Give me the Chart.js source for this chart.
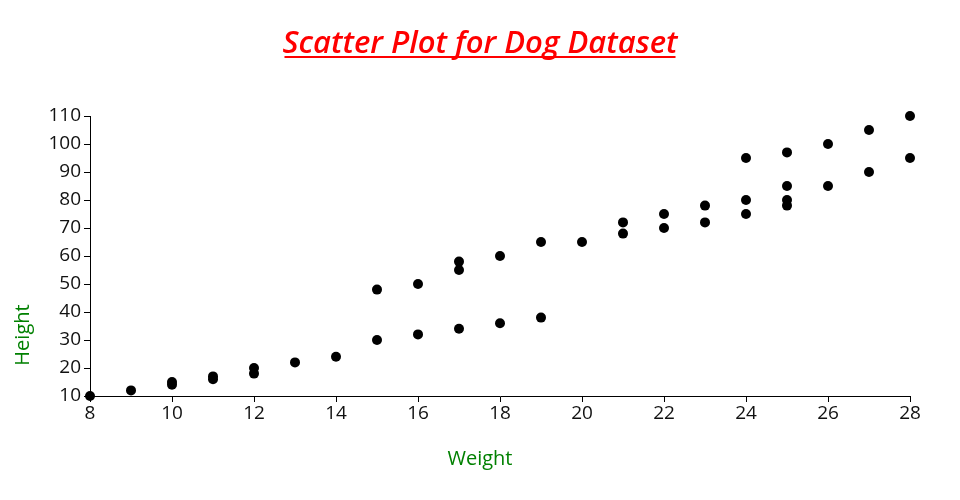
<!DOCTYPE html>
<html>
<head>
<meta charset="utf-8">
<title>Scatter Plot for Dog Dataset</title>
<script src="https://cdn.jsdelivr.net/npm/chart.js@4/dist/chart.umd.min.js"></script>
<style>
  html, body { margin: 0; padding: 0; background: #fff; }
  #wrap { width: 960px; height: 500px; position: relative; }
</style>
</head>
<body>
<div id="wrap"><canvas id="dogScatter"></canvas></div>
<script>
// dog dataset
const weights = [8, 9, 10, 10, 11, 11, 12, 12, 13, 14,
                 15, 15, 16, 16, 17, 17, 17, 18, 18, 19, 19, 20,
                 21, 21, 22, 22, 23, 23, 24, 24, 24,
                 25, 25, 25, 25, 26, 26, 27, 27, 28, 28];
const heights = [10, 12, 14, 15, 16, 17, 18, 20, 22, 24,
                 30, 48, 32, 50, 34, 55, 58, 36, 60, 38, 65, 65,
                 68, 72, 70, 75, 72, 78, 75, 80, 95,
                 78, 80, 85, 97, 85, 100, 90, 105, 95, 110];

const xTicks = [8, 10, 12, 14, 16, 18, 20, 22, 24, 26, 28];
const yTicks = [10, 20, 30, 40, 50, 60, 70, 80, 90, 100, 110];

const chartTitle = "Scatter Plot for Dog Dataset";
const xTitle = "Weight";
const yTitle = "Height";

const points = weights.map((w, i) => ({ x: w, y: heights[i] }));

// title with underline + the two green axis labels
const textPlugin = {
    id: "dogText",
    afterDraw(chart) {
        const ctx = chart.ctx;
        const area = chart.chartArea;
        ctx.save();
        ctx.fillStyle = "red";
        ctx.font = "italic 600 31px 'Open Sans'";
        ctx.textAlign = "center";
        ctx.textBaseline = "alphabetic";
        const cx = chart.width / 2;
        ctx.fillText(chartTitle, cx, 53);
        const w = ctx.measureText(chartTitle).width;
        ctx.fillRect(cx - w / 2 + 2, 56, w - 4, 2);

        ctx.fillStyle = "green";
        ctx.font = "20px 'Open Sans'";
        ctx.textBaseline = "middle";
        ctx.fillText(xTitle, area.left + 390, 459);

        ctx.translate(23, area.bottom - 61);
        ctx.rotate(-Math.PI / 2);
        ctx.fillText(yTitle, 0, 0);
        ctx.restore();
    }
};

const dogScatter = new Chart("dogScatter", {
    type: "scatter",
    data: {
        datasets: [{
            label: "Dogs",
            data: points,
            backgroundColor: "#000",
            borderWidth: 0,
            pointRadius: 5,
            pointHoverRadius: 5,
            clip: false
        }]
    },
    options: {
        responsive: true,
        maintainAspectRatio: false,
        animation: false,
        layout: { padding: { top: 116, right: 50, left: 0, bottom: 0 } },
        plugins: {
            legend: { display: false },
            tooltip: { enabled: false }
        },
        scales: {
            x: {
                type: "linear",
                min: 8,
                max: 28,
                afterFit(scale) { scale.height = 104; },
                afterBuildTicks(scale) { scale.ticks = xTicks.map(v => ({ value: v })); },
                grid: { drawOnChartArea: false, drawTicks: true, tickLength: 6, color: "#000" },
                border: { display: true, color: "#000", width: 1 },
                ticks: { color: "#111", font: { family: "'Open Sans'", size: 19 }, padding: 0, maxRotation: 0 }
            },
            y: {
                type: "linear",
                min: 10,
                max: 110,
                afterFit(scale) { scale.width = 90; },
                afterBuildTicks(scale) { scale.ticks = yTicks.map(v => ({ value: v })); },
                grid: { drawOnChartArea: false, drawTicks: true, tickLength: 6, color: "#000" },
                border: { display: true, color: "#000", width: 1 },
                ticks: { color: "#111", font: { family: "'Open Sans'", size: 19 }, padding: 3 }
            }
        }
    },
    plugins: [textPlugin]
});
</script>
</body>
</html>
